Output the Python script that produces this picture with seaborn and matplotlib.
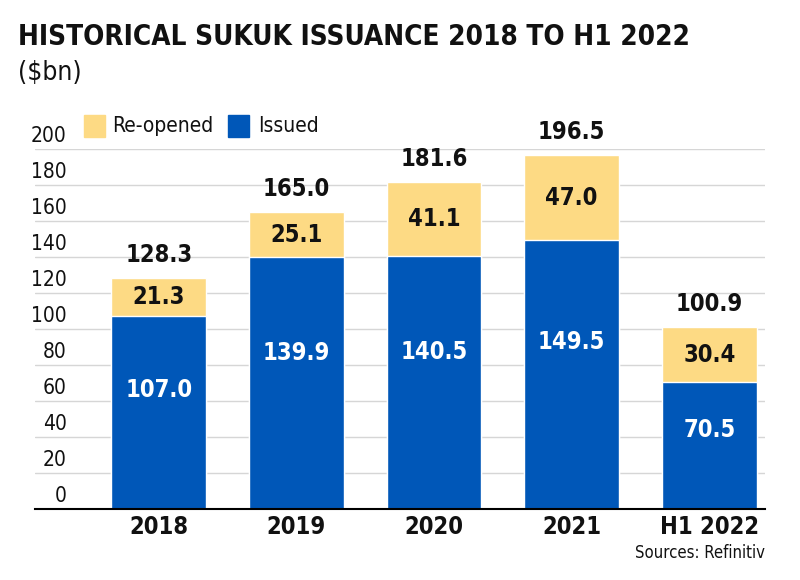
import numpy as np
import pandas as pd
import seaborn as sns
import matplotlib.pyplot as plt
import matplotlib.transforms as mtransforms

sns.set_theme(style="white")
plt.rcParams["font.family"] = ["DejaVu Sans"]
plt.rcParams["font.stretch"] = "condensed"

# data ($bn)
periods = ["2018", "2019", "2020", "2021", "H1 2022"]
issued = [107.0, 139.9, 140.5, 149.5, 70.5]
reopened = [21.3, 25.1, 41.1, 47.0, 30.4]
totals = [128.3, 165.0, 181.6, 196.5, 100.9]
yticks = [0, 20, 40, 60, 80, 100, 120, 140, 160, 180, 200]

blue = "#0057B8"
yellow = "#FDDA84"

df = pd.DataFrame({"period": periods, "issued": issued,
                   "reopened": reopened, "total": totals})

fig = plt.figure(figsize=(8, 5.8), dpi=100)
ax = fig.add_axes([0.044, 0.1224, 0.912, 0.6207])

# stacked: full height in yellow, issued part in blue on top of it
sns.barplot(data=df, x="period", y="total", color=yellow, width=0.69,
            saturation=1, ax=ax, zorder=2)
sns.barplot(data=df, x="period", y="issued", color=blue, width=0.69,
            saturation=1, ax=ax, zorder=3)

ax.set_xlim(-0.897, 4.403)
ax.set_ylim(0, 200)
ax.set_xlabel("")
ax.set_ylabel("")

# gridlines with labels sitting above them on the left
ax.set_yticks(yticks)
ax.set_yticklabels([])
ax.tick_params(axis="y", length=0)
for t in yticks[1:]:
    ax.axhline(t, color="#d6d6d6", lw=1, zorder=1)
trans = mtransforms.blended_transform_factory(ax.transAxes, ax.transData)
for t in yticks:
    ax.text(0.043, t + 1.5, str(t), transform=trans, ha="right", va="bottom",
            fontsize=15, color="#111111", zorder=4)

for s in ["top", "right", "left"]:
    ax.spines[s].set_visible(False)
ax.spines["bottom"].set_color("black")
ax.spines["bottom"].set_linewidth(1.5)
ax.spines["bottom"].set_zorder(5)

ax.tick_params(axis="x", length=0, pad=4)
for lab in ax.get_xticklabels():
    lab.set_fontsize(17)
    lab.set_fontweight("bold")
    lab.set_color("#111111")

# value labels
for i in range(len(periods)):
    ax.text(i, issued[i] * 0.62, f"{issued[i]:.1f}", ha="center", va="center",
            color="white", fontsize=17, fontweight="bold", zorder=6)
    ax.text(i, issued[i] + reopened[i] / 2, f"{reopened[i]:.1f}", ha="center",
            va="center", color="#111111", fontsize=17, fontweight="bold", zorder=6)
    ax.annotate(f"{totals[i]:.1f}", (i, totals[i]), xytext=(0, 8),
                textcoords="offset points", ha="center", va="bottom",
                color="#111111", fontsize=17, fontweight="bold",
                annotation_clip=False, zorder=6)

# legend
fig.patches.append(plt.Rectangle((84 / 800, 1 - 137 / 580), 21 / 800, 22 / 580,
                                 transform=fig.transFigure, color=yellow))
fig.text(112 / 800, 1 - 126 / 580, "Re-opened", ha="left", va="center",
         fontsize=15, color="#111111")
fig.patches.append(plt.Rectangle((228 / 800, 1 - 137 / 580), 21 / 800, 22 / 580,
                                 transform=fig.transFigure, color=blue))
fig.text(258 / 800, 1 - 126 / 580, "Issued", ha="left", va="center",
         fontsize=15, color="#111111")

# titles
fig.text(18 / 800, 1 - 45 / 580, "HISTORICAL SUKUK ISSUANCE 2018 TO H1 2022",
         ha="left", va="baseline", fontsize=20, fontweight="bold", color="#111111")
fig.text(18 / 800, 1 - 80 / 580, "($bn)", ha="left", va="baseline",
         fontsize=19, color="#111111")
fig.text(765 / 800, 1 - 558 / 580, "Sources: Refinitiv", ha="right",
         va="baseline", fontsize=12, color="#111111")

fig.savefig("out.png", dpi=100)
